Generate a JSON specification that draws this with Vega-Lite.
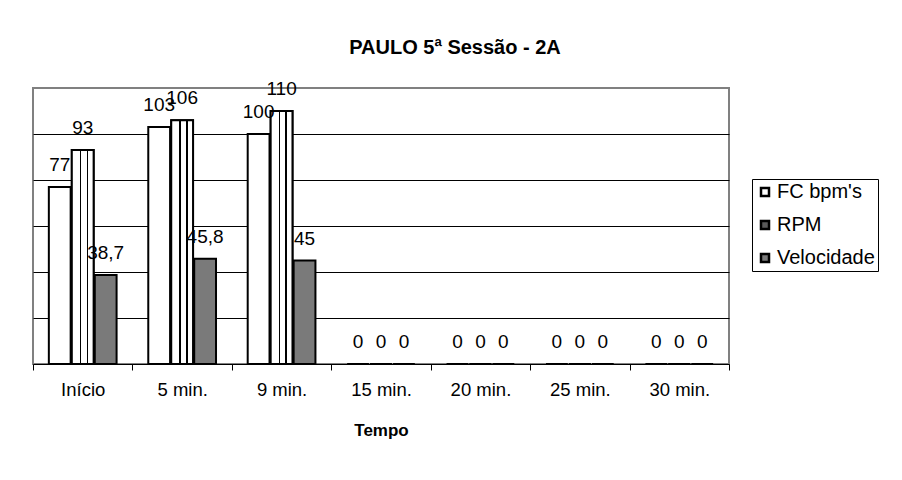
{
  "$schema": "https://vega.github.io/schema/vega-lite/v6.json",
  "autosize": {"type": "none"},
  "padding": {"left": 33, "top": 88, "right": 173, "bottom": 116},
  "width": 696,
  "height": 276,
  "background": "white",
  "config": {
    "font": "Liberation Sans",
    "locale": {"number": {"decimal": ",", "thousands": ".", "grouping": [3], "currency": ["R$ ", ""]}},
    "view": {"stroke": "#808080", "strokeWidth": 2}
  },
  "title": {
    "text": "PAULO 5ª Sessão - 2A",
    "font": "Liberation Sans",
    "fontSize": 20,
    "fontWeight": "bold",
    "color": "black",
    "anchor": "middle",
    "frame": "group",
    "dx": 74,
    "offset": 22
  },
  "data": {
    "values": [
      {"tempo": "Início", "serie": "FC bpm's", "valor": 77},
      {"tempo": "Início", "serie": "RPM", "valor": 93},
      {"tempo": "Início", "serie": "Velocidade", "valor": 38.7},
      {"tempo": "5 min.", "serie": "FC bpm's", "valor": 103},
      {"tempo": "5 min.", "serie": "RPM", "valor": 106},
      {"tempo": "5 min.", "serie": "Velocidade", "valor": 45.8},
      {"tempo": "9 min.", "serie": "FC bpm's", "valor": 100},
      {"tempo": "9 min.", "serie": "RPM", "valor": 110},
      {"tempo": "9 min.", "serie": "Velocidade", "valor": 45},
      {"tempo": "15 min.", "serie": "FC bpm's", "valor": 0},
      {"tempo": "15 min.", "serie": "RPM", "valor": 0},
      {"tempo": "15 min.", "serie": "Velocidade", "valor": 0},
      {"tempo": "20 min.", "serie": "FC bpm's", "valor": 0},
      {"tempo": "20 min.", "serie": "RPM", "valor": 0},
      {"tempo": "20 min.", "serie": "Velocidade", "valor": 0},
      {"tempo": "25 min.", "serie": "FC bpm's", "valor": 0},
      {"tempo": "25 min.", "serie": "RPM", "valor": 0},
      {"tempo": "25 min.", "serie": "Velocidade", "valor": 0},
      {"tempo": "30 min.", "serie": "FC bpm's", "valor": 0},
      {"tempo": "30 min.", "serie": "RPM", "valor": 0},
      {"tempo": "30 min.", "serie": "Velocidade", "valor": 0}
    ]
  },
  "encoding": {
    "x": {
      "field": "tempo",
      "type": "nominal",
      "sort": ["Início", "5 min.", "9 min.", "15 min.", "20 min.", "25 min.", "30 min."],
      "scale": {"paddingInner": 0, "paddingOuter": 0},
      "axis": {
        "title": "Tempo",
        "titleFont": "Liberation Sans",
        "titleFontSize": 17,
        "titleFontWeight": "bold",
        "titleColor": "black",
        "titlePadding": 24,
        "labelFont": "Liberation Sans",
        "labelFontSize": 18.5,
        "labelColor": "black",
        "labelAngle": 0,
        "labelPadding": 10,
        "tickSize": 6,
        "tickColor": "black",
        "tickBand": "extent",
        "domainColor": "black",
        "grid": false
      }
    },
    "xOffset": {
      "field": "serie",
      "type": "nominal",
      "sort": ["FC bpm's", "RPM", "Velocidade"],
      "scale": {"paddingInner": 0.05, "paddingOuter": 0.69}
    },
    "y": {
      "field": "valor",
      "type": "quantitative",
      "scale": {"domain": [0, 120]},
      "axis": {
        "title": null,
        "labels": false,
        "ticks": false,
        "domain": false,
        "grid": true,
        "gridColor": "black",
        "gridWidth": 1,
        "values": [20, 40, 60, 80, 100]
      }
    }
  },
  "layer": [
    {
      "mark": {"type": "bar", "stroke": "black", "strokeWidth": 2},
      "encoding": {
        "fill": {
          "field": "serie",
          "type": "nominal",
          "sort": ["FC bpm's", "RPM", "Velocidade"],
          "scale": {"range": ["#ffffff", "#5a5a5a", "#7a7a7a"]},
          "legend": {
            "title": null,
            "orient": "none",
            "legendX": 719,
            "legendY": 91,
            "strokeColor": "black",
            "fillColor": "white",
            "padding": 3,
            "symbolType": "square",
            "symbolSize": 64,
            "symbolStrokeColor": "black",
            "symbolStrokeWidth": 2.5,
            "symbolOpacity": 1,
            "labelFont": "Liberation Sans",
            "labelFontSize": 20,
            "labelColor": "black",
            "labelOffset": 2,
            "rowPadding": 13
          }
        }
      }
    },
    {
      "transform": [{"filter": "datum.serie === 'RPM'"}],
      "mark": {"type": "bar", "stroke": "black", "strokeWidth": 2},
      "encoding": {
        "fill": {
          "value": {
            "gradient": "linear",
            "x1": 0, "x2": 1, "y1": 0, "y2": 0,
            "stops": [
              {"offset": 0, "color": "white"},
              {"offset": 0.36, "color": "white"},
              {"offset": 0.36, "color": "black"},
              {"offset": 0.43, "color": "black"},
              {"offset": 0.43, "color": "white"},
              {"offset": 0.68, "color": "white"},
              {"offset": 0.68, "color": "black"},
              {"offset": 0.75, "color": "black"},
              {"offset": 0.75, "color": "white"},
              {"offset": 1, "color": "white"}
            ]
          }
        }
      }
    },
    {
      "mark": {"type": "text", "dy": -16, "baseline": "alphabetic", "font": "Liberation Sans", "fontSize": 19, "color": "black"},
      "encoding": {
        "text": {"field": "valor", "type": "quantitative", "format": "~g"}
      }
    }
  ]
}
